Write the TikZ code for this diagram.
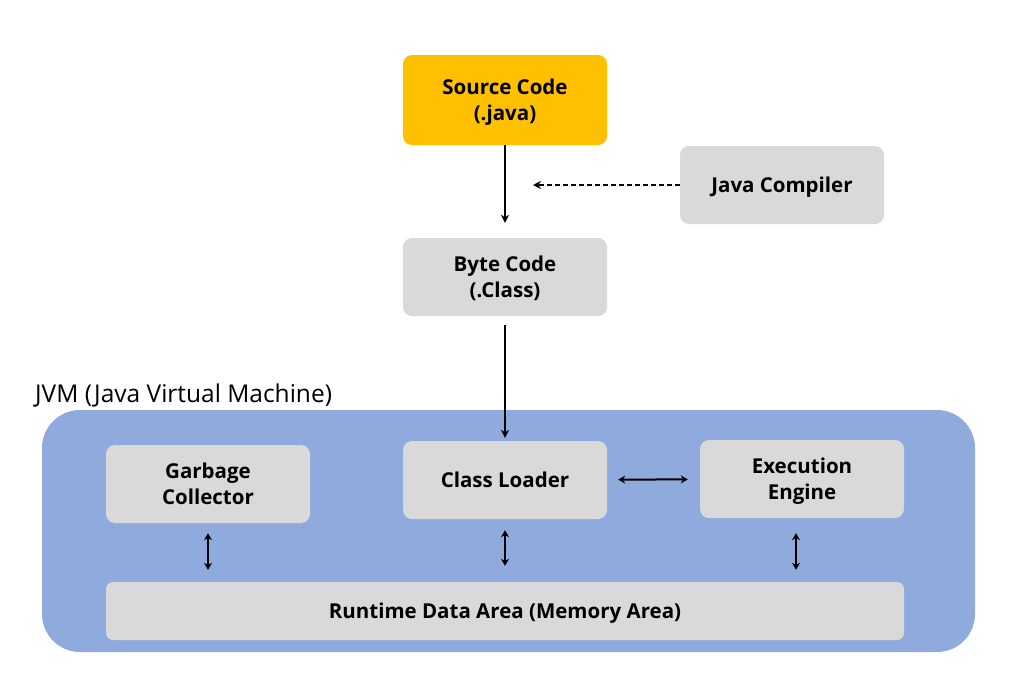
\documentclass[tikz,border=0pt]{standalone}
\usepackage{xcolor}
\usepackage{fontspec}
\setmainfont{Open Sans}
\usetikzlibrary{arrows.meta}

\begin{document}
\begin{tikzpicture}[x=1pt, y=-1pt, every node/.style={rounded corners=9pt, align=center, text depth=0pt, font=\bfseries\fontsize{20.5}{26}\selectfont},
    caja/.style={fill=grisC, minimum width=204pt, minimum height=78pt},
    flecha/.style={line width=2pt, -{Stealth[length=8pt,width=8pt]}},
    doble/.style={line width=2pt, {Stealth[length=7pt,width=8pt]}-{Stealth[length=7pt,width=8pt]}}]

    % Definimos colores
    \definecolor{naranjaS}{RGB}{255,192,0}   % Source code
    \definecolor{grisC}{RGB}{217,217,217}    % Cajas grises
    \definecolor{azulJ}{RGB}{143,170,220}    % Fondo JVM

    \useasboundingbox (0,0) rectangle (1012,672);

    % Compilacion
    \node[caja, fill=naranjaS, minimum height=90pt] (src) at (505,100) {Source Code\\(.java)};
    \node[caja] (comp) at (782,185) {Java Compiler};
    \node[caja] (byte) at (505,277) {Byte Code\\(.Class)};
    \coordinate (dashend) at (533,185);

    % JVM
    \node[anchor=south west, rounded corners=0pt, font=\fontsize{24.5}{28}\selectfont, inner sep=0pt] (jvmlbl) at (35,403) {JVM (Java Virtual Machine)};
    \fill[azulJ, rounded corners=38pt] (42,410) rectangle (975,652);

    \node[caja] (gc) at (208,484) {Garbage\\Collector};
    \node[caja] (cl) at (505,480) {Class Loader};
    \node[caja] (ee) at (802,479) {Execution\\Engine};
    \node[fill=grisC, rounded corners=7pt, minimum width=798pt, minimum height=58pt] (rda) at (505,611) {Runtime Data Area (Memory Area)};

    % Conexiones
    \draw[flecha, shorten >=15pt] (src) -- (byte);
    \draw[flecha, dashed, dash pattern=on 5pt off 3pt] (comp) -- (dashend);
    \draw[flecha, shorten <=9pt, shorten >=3pt] (byte) -- (cl);
    \draw[doble, shorten <=11pt, shorten >=12pt] (cl) -- (ee);

    \draw[doble, shorten <=10pt, shorten >=12pt] (gc.south) -- (gc.south |- rda.north);
    \draw[doble, shorten <=11pt, shorten >=16pt] (cl.south) -- (cl.south |- rda.north);
    \draw[doble, shorten <=15pt, shorten >=12pt] ([xshift=-6pt]ee.south) -- ([xshift=-6pt]ee.south |- rda.north);

\end{tikzpicture}
\end{document}
